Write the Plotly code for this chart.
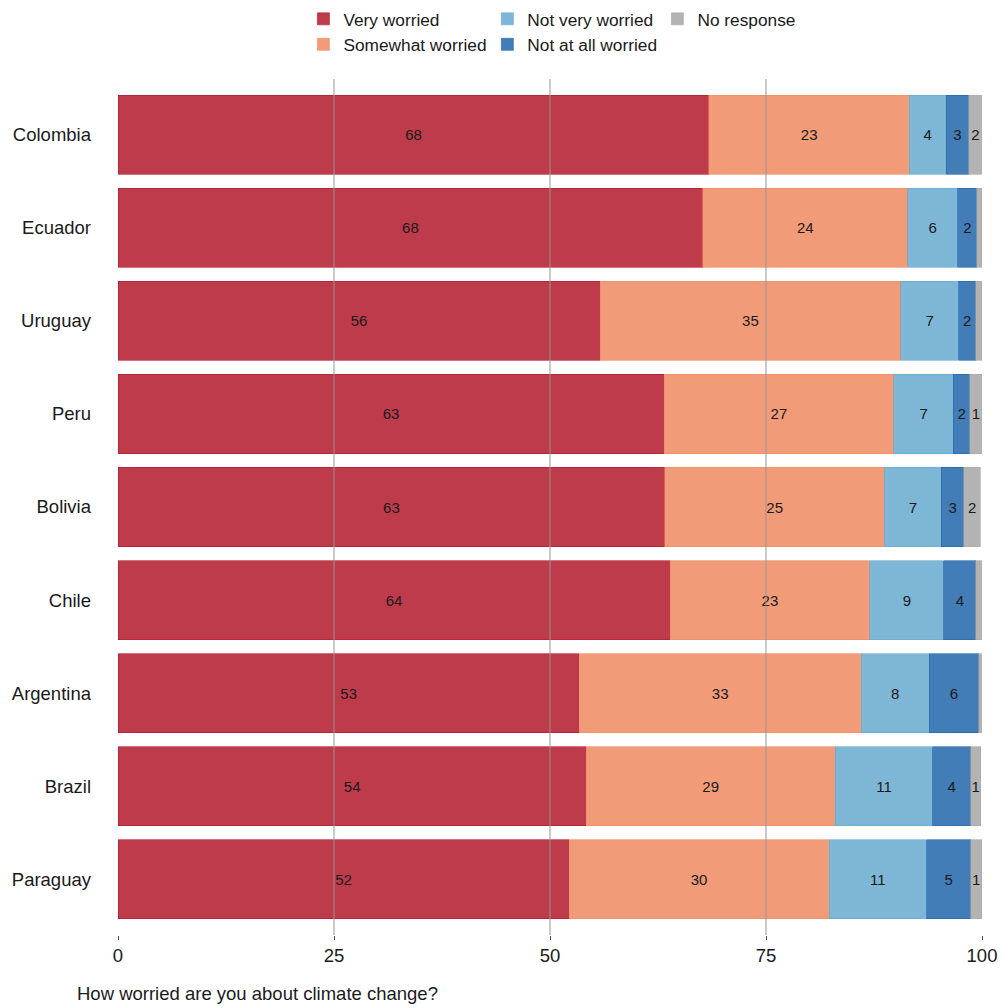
import plotly.graph_objects as go

countries = ["Colombia", "Ecuador", "Uruguay", "Peru", "Bolivia", "Chile", "Argentina", "Brazil", "Paraguay"]
very_worried = [68.4, 67.7, 55.8, 63.2, 63.3, 63.9, 53.4, 54.2, 52.2]
somewhat_worried = [23.2, 23.7, 34.8, 26.6, 25.4, 23.1, 32.6, 28.8, 30.1]
not_very_worried = [4.25, 5.8, 6.7, 6.9, 6.6, 8.6, 7.9, 11.3, 11.3]
not_at_all_worried = [2.6, 2.2, 1.97, 1.9, 2.6, 3.7, 5.7, 4.4, 5.1]
no_response = [1.6, 0.58, 0.69, 1.4, 1.9, 0.7, 0.4, 1.16, 1.27]

series_names = ["Very worried", "Somewhat worried", "Not very worried", "Not at all worried", "No response"]
series_values = [very_worried, somewhat_worried, not_very_worried, not_at_all_worried, no_response]
fill_colors = ["#be3b4b", "#f19b79", "#7eb6d6", "#427db8", "#b3b3b3"]
edge_colors = ["#b2182b", "#ef8a62", "#67a9cf", "#2166ac", "#a8a8a8"]
legend_ids = ["legend", "legend", "legend2", "legend2", "legend3"]

x_ticks = [0, 25, 50, 75, 100]
grid_ticks = [25, 50, 75]
x_title = "How worried are you about climate change?"

FONT = "Liberation Sans, Arial, Helvetica, sans-serif"

fig = go.Figure()
for name, vals, fc, ec, lg in zip(series_names, series_values, fill_colors, edge_colors, legend_ids):
    labels = [f"{v:.0f}" if v >= 1 else "" for v in vals]
    fig.add_trace(go.Bar(
        y=countries, x=vals, name=name, orientation="h",
        marker=dict(color=fc, line=dict(color=ec, width=0.6)),
        text=labels, textposition="inside", insidetextanchor="middle",
        textangle=0, textfont=dict(size=15, color="#1a1a1a", family=FONT),
        legend=lg, hoverinfo="x+y+name",
    ))

for g in grid_ticks:
    fig.add_shape(type="line", xref="x", yref="paper", x0=g, x1=g, y0=0, y1=1,
                  line=dict(color="rgba(150,150,150,0.5)", width=2), layer="above")

legend_common = dict(orientation="v", yanchor="top", xanchor="left", y=1.091,
                     traceorder="normal",
                     font=dict(size=17.3, color="#1a1a1a", family=FONT),
                     bgcolor="rgba(0,0,0,0)", tracegroupgap=0, itemclick=False)

fig.update_layout(
    width=1004, height=1008,
    margin=dict(l=118, r=22, t=79, b=73, autoexpand=False),
    barmode="stack", bargap=0.15,
    plot_bgcolor="white", paper_bgcolor="white",
    font=dict(family=FONT, size=18.5, color="#1a1a1a"),
    uniformtext=dict(minsize=15, mode="show"),
    legend=dict(x=0.2146, **legend_common),
    legend2=dict(x=0.4275, **legend_common),
    legend3=dict(x=0.6243, **legend_common),
    xaxis=dict(range=[0, 100], tickvals=x_ticks, showgrid=False, zeroline=False,
               showline=False, ticks="outside", ticklen=4, tickcolor="#444",
               tickfont=dict(size=18.5, color="#1a1a1a")),
    yaxis=dict(categoryorder="array", categoryarray=countries, range=[8.6, -0.6],
               showgrid=False, zeroline=False, showline=False, ticks="",
               ticklabelstandoff=26, tickfont=dict(size=18.5, color="#1a1a1a")),
    annotations=[dict(text=x_title, xref="paper", yref="paper", x=-0.05, y=-0.068,
                      xanchor="left", yanchor="middle", showarrow=False,
                      font=dict(size=18.5, color="#1a1a1a", family=FONT))],
)

# remove the browser's default 8px body margin so the figure fills the window exactly
fig.write_html(
    "out.html",
    config={"displayModeBar": False},
    post_script="document.body.style.margin='0px';document.documentElement.style.overflow='hidden';",
)
